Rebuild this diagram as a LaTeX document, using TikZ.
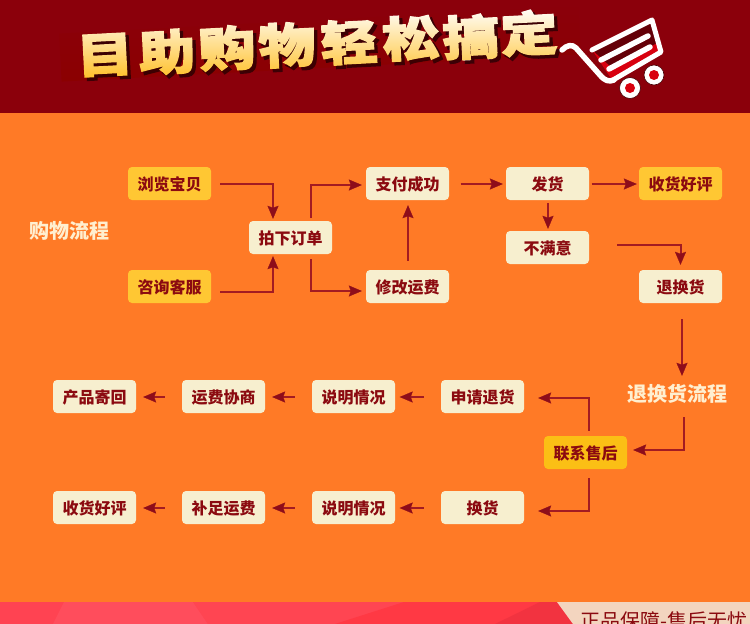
\documentclass[tikz,border=0pt]{standalone}
\usepackage{fontspec}
\setmainfont{Noto Sans CJK SC}
\newfontfamily\ttlf[BoldFeatures={FakeBold=2.5}]{Noto Sans CJK SC}
\newfontfamily\ttls[BoldFeatures={FakeBold=4}]{Noto Sans CJK SC}
\usetikzlibrary{arrows.meta,shadings}
\definecolor{hdr}{HTML}{8B000B}
\definecolor{bgor}{HTML}{FF7A26}
\definecolor{creamb}{HTML}{F7EFCF}
\definecolor{yelb}{HTML}{FFC733}
\definecolor{yelc}{HTML}{FBBF15}
\definecolor{txt}{HTML}{8B0A10}
\definecolor{linec}{HTML}{A31B22}
\definecolor{headc}{HTML}{8E0D1A}
\definecolor{lab}{HTML}{FFEFD0}
\definecolor{fa}{HTML}{FF4352}
\definecolor{fb}{HTML}{FF4D5C}
\definecolor{fc}{HTML}{FF4552}
\definecolor{fd}{HTML}{FF3944}
\definecolor{fe}{HTML}{F23340}
\definecolor{ff}{HTML}{F3D5BF}
\definecolor{gmid}{HTML}{FFF3D8}
\definecolor{gbot}{HTML}{FFBE20}
\definecolor{shad}{HTML}{3C0006}
\definecolor{cartdark}{HTML}{640008}
\definecolor{cartred}{HTML}{D8000F}
\tikzset{
  box/.style={rounded corners=4pt,minimum width=83pt,minimum height=33pt,inner sep=0pt,text=txt,text height=14pt,text depth=1pt,font=\bfseries\fontsize{16}{16}\selectfont},
  creambox/.style={box,fill=creamb},
  yelbox/.style={box,fill=yelb},
  flow/.style={draw=linec,line width=2pt,-{Stealth[length=13pt,width=11pt,inset=2pt,fill=headc,color=headc,line width=0.2pt]}},
  sect/.style={text=lab,font=\bfseries\fontsize{20}{20}\selectfont,inner sep=0pt,text height=16.5pt,text depth=1.5pt},
  tsty/.style={rotate=3,xscale=1.14,yscale=.95,inner sep=0pt},
  wheel/.style={fill=white,draw=black!50!hdr,line width=.6pt},
}
\newcommand{\tchar}[3]{%
\node[tsty,text=shad,font=\ttls\bfseries\fontsize{50}{50}\selectfont] at ({#1+3},{#2+3}) {#3};
\node[tsty,text=white,font=\ttlf\bfseries\fontsize{50}{50}\selectfont] at (#1,#2) {#3};}
\begin{document}
\begin{tikzpicture}[x=1pt,y=-1pt]
\useasboundingbox (0,0) rectangle (750,624);
\clip (0,0) rectangle (750,624);
\fill[bgor] (0,0) rectangle (750,624);
\fill[hdr] (0,0) rectangle (750,113);
% title
\tchar{105}{55}{目}
\tchar{167}{52}{助}
\tchar{227}{48}{购}
\tchar{287}{45}{物}
\tchar{349}{42}{轻}
\tchar{411}{38}{松}
\tchar{471}{37}{搞}
\tchar{529}{33}{定}
\shade[blend mode=multiply,top color=white,middle color=gmid,bottom color=gbot,rotate around={3:(320,44)}] (60,20) rectangle (580,68);
% cart
\fill[cartdark] (592,50) -- (652,20) -- (662,52) -- (612,80) -- cycle;
\fill[cartred] (592,50) -- (612,80) -- (662,52) -- (659,42) -- (612,68) -- cycle;
\draw[white,line width=5pt,line join=round,line cap=round] (592,50) -- (652,20) -- (661,52) -- (613,80);
\draw[white,line width=5.5pt,line join=round,line cap=round] (562,50) .. controls (567,45) and (572,44) .. (576,48) -- (600,75) .. controls (605,81) and (609,82) .. (614,80);
\draw[white,line width=5.5pt,line cap=round] (601,60) -- (648,36) (609,69) -- (650,47);
\fill[wheel] (630,88) circle (10.5);
\fill[cartred] (630,88) circle (5);
\fill[wheel] (654,75) circle (10);
\fill[cartred] (654,75) circle (5);
% footer
\fill[fa] (0,602) rectangle (750,624);
\fill[fb] (64,602) -- (193,602) -- (208,624) -- (53,624) -- cycle;
\fill[fc] (193,602) -- (404,602) -- (335,624) -- (208,624) -- cycle;
\fill[fd] (404,602) -- (557,602) -- (573,624) -- (335,624) -- cycle;
\fill[fe] (540,602) -- (557,602) -- (573,624) -- (495,624) -- cycle;
\fill[ff] (557,602) -- (750,602) -- (750,624) -- (573,624) -- cycle;
\node[text=txt,inner sep=0pt,anchor=west,font=\fontsize{20}{20}\selectfont] (slogan) at (580,621) {正品保障-售后无忧};
% section labels
\node[sect] (shop) at (69,231) {购物流程};
\node[sect] (ret) at (677,394) {退换货流程};
% nodes
\node[yelbox] (liulan) at (169.5,183.5) {浏览宝贝};
\node[yelbox] (zixun) at (169.5,286.5) {咨询客服};
\node[creambox] (xiadan) at (290.5,237.5) {拍下订单};
\node[creambox] (zhifu) at (407.5,183.5) {支付成功};
\node[creambox] (xiugai) at (407.5,286.5) {修改运费};
\node[creambox] (fahuo) at (547.5,183.5) {发货};
\node[yelbox] (haoping) at (680.5,183.5) {收货好评};
\node[creambox] (bumanyi) at (547.5,247.5) {不满意};
\node[creambox] (tuihuan) at (680.5,286.5) {退换货};
\node[creambox] (shenqing) at (482.5,396.5) {申请退货};
\node[creambox] (shuoa) at (353.5,396.5) {说明情况};
\node[creambox] (xieshang) at (223.5,396.5) {运费协商};
\node[creambox] (jihui) at (94.5,396.5) {产品寄回};
\node[box,fill=yelc] (lianxi) at (585.5,452.5) {联系售后};
\node[creambox] (huanhuo) at (482.5,507.5) {换货};
\node[creambox] (shuob) at (353.5,507.5) {说明情况};
\node[creambox] (bu) at (223.5,507.5) {补足运费};
\node[creambox] (haopingb) at (94.5,507.5) {收货好评};
% connectors
\draw[flow] ([xshift=9,yshift=-0.5]liulan.east) -| ([xshift=-17.5,yshift=2]xiadan.north);
\draw[flow] ([xshift=9,yshift=-5.5]zixun.east) -| ([xshift=-17.5,yshift=-2]xiadan.south);
\draw[flow] ([xshift=20.5,yshift=3]xiadan.north) |- ([xshift=-4,yshift=-1.5]zhifu.west);
\draw[flow] ([xshift=20.5,yshift=-5]xiadan.south) |- ([xshift=-4,yshift=-4.5]xiugai.west);
\draw[flow] ([xshift=.5,yshift=9]xiugai.north) -- ([xshift=.5,yshift=-5]zhifu.south);
\draw[flow] ([xshift=11.5,yshift=-0.5]zhifu.east) -- ([xshift=-3,yshift=-0.5]fahuo.west);
\draw[flow] ([xshift=2.5,yshift=-0.5]fahuo.east) -- ([xshift=-2,yshift=-0.5]haoping.west);
\draw[flow] ([xshift=.5,yshift=-3]fahuo.south) -- ([xshift=.5,yshift=2]bumanyi.north);
\draw[flow] ([xshift=28,yshift=2.5]bumanyi.east) -| ([yshift=5]tuihuan.north);
\draw[flow] ([xshift=1.5,yshift=-16]tuihuan.south) -- ([xshift=5,yshift=9]ret.north);
\draw[flow] ([xshift=7,yshift=-14]ret.south) |- ([xshift=6,yshift=2.5]lianxi.east);
\draw[flow] ([xshift=3.5,yshift=5]lianxi.north) |- ([xshift=14,yshift=-1.5]shenqing.east);
\draw[flow] ([xshift=3.5,yshift=-9]lianxi.south) |- ([xshift=14,yshift=-3.5]huanhuo.east);
\draw[flow] ([xshift=-17,yshift=-.5]shenqing.west) -- ([xshift=4.5,yshift=-.5]shuoa.east);
\draw[flow] ([xshift=-17,yshift=-.5]shuoa.west) -- ([xshift=7,yshift=-.5]xieshang.east);
\draw[flow] ([xshift=-17,yshift=-.5]xieshang.west) -- ([xshift=7,yshift=-.5]jihui.east);
\draw[flow] ([xshift=-17,yshift=-.5]huanhuo.west) -- ([xshift=4.5,yshift=-.5]shuob.east);
\draw[flow] ([xshift=-17,yshift=-.5]shuob.west) -- ([xshift=7,yshift=-.5]bu.east);
\draw[flow] ([xshift=-17,yshift=-.5]bu.west) -- ([xshift=7,yshift=-.5]haopingb.east);
\end{tikzpicture}
\end{document}
